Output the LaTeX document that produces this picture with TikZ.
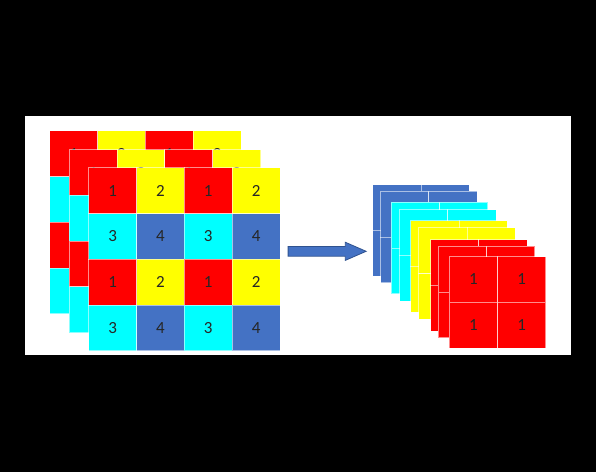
\documentclass[tikz,border=0pt]{standalone}
\usepackage{fontspec}
\setmainfont{Carlito}
\usetikzlibrary{shapes.arrows}
\definecolor{colore1}{HTML}{FF0000}
\definecolor{colore2}{HTML}{FFFF00}
\definecolor{colore3}{HTML}{00FFFF}
\definecolor{colore4}{HTML}{4472C4}
\definecolor{bordofreccia}{HTML}{2F528F}
\begin{document}
\begin{tikzpicture}[
        x=1pt, y=-1pt, % coordinate come i pixel del riferimento
        cella/.style={draw=white, draw opacity=0.55, line width=1pt, inner sep=0pt,
            minimum width=47.8pt, minimum height=45.75pt, anchor=north west,
            font=\fontsize{17}{20}\selectfont, text=black!85}, % celle della mappa 4x4
        piccola/.style={cella, minimum width=48.3pt, minimum height=45.8pt} % celle 2x2 dopo il pooling
    ]
    \fill[black] (0,0) rectangle (596,472);
    \fill[white] (25,116) rectangle (571,355);
    % tre canali di ingresso, dal fondo verso il davanti
    \foreach \ox/\oy [count=\l] in {49.3/130.3, 68.8/149.2, 88.3/167.3}
        \foreach \r in {0,...,3}
            \foreach \c in {0,...,3} {
                \pgfmathtruncatemacro{\n}{2*mod(\r,2)+mod(\c,2)+1}
                \node[cella, fill=colore\n] (L\l-\r-\c) at ({\ox+\c*47.8},{\oy+\r*45.75}) {\n};
            }
    \node[single arrow, draw=bordofreccia, fill=colore4, line width=0.8pt,
        inner xsep=0pt, inner ysep=4.5pt, minimum height=78pt,
        single arrow head extend=4.15pt, single arrow tip angle=47] (freccia) at (321.5,251.3) {};
    % pila di uscita: due strati per colore, il rosso davanti
    \foreach \ox/\oy/\n [count=\l] in {372.3/184/4, 380/190.7/4, 390.7/201.7/3, 399/209/3,
            410.3/220/2, 418.3/227.3/2, 430/239/1, 437.7/245.7/1}
        \foreach \r in {0,1}
            \foreach \c in {0,1}
                \node[piccola, fill=colore\n] (R\l-\r-\c) at ({\ox+\c*48.3},{\oy+\r*45.8}) {};
    \foreach \r in {0,1}
        \foreach \c in {0,1}
            \node[piccola, fill=colore1] (F-\r-\c) at ({448.7+\c*48.3},{256+\r*45.8}) {1};
\end{tikzpicture}
\end{document}
